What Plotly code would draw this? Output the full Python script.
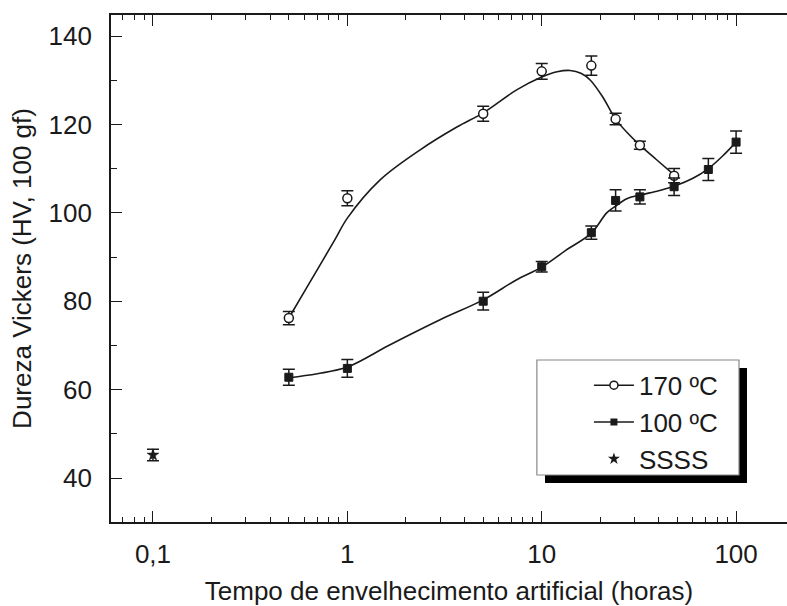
import plotly.graph_objects as go

# ---- data ----
t170 = [0.5, 1, 5, 10, 18, 24, 32, 48]
hv170 = [76.2, 103.3, 122.4, 132.0, 133.3, 121.2, 115.3, 108.4]
err170 = [1.5, 1.7, 1.7, 1.8, 2.2, 1.3, 0.9, 1.6]

t100 = [0.5, 1, 5, 10, 18, 24, 32, 48, 72, 100]
hv100 = [62.8, 64.8, 80.0, 87.8, 95.5, 102.8, 103.6, 105.9, 109.8, 116.0]
err100 = [1.8, 2.0, 2.0, 1.2, 1.5, 2.4, 1.6, 2.0, 2.5, 2.5]

t_ss = [0.1]
hv_ss = [45.2]
err_ss = [1.3]

# fitted (smoothed) curves as drawn in the reference
fit170_t = [0.5, 0.62, 0.86, 1, 1.47, 2.36, 3.66, 5, 7.43, 10, 12, 14, 16, 17.8, 20.6, 24, 28.3, 32, 39, 48]
fit170_v = [76.2, 83.2, 93.8, 98.8, 107.4, 114.2, 119.4, 122.6, 127.8, 130.7, 131.9, 132.2, 131.5, 130.0, 126.2, 121.2, 117.6, 115.3, 112.0, 108.6]

fit100_t = [0.5, 0.7, 1, 1.65, 3, 5, 7.4, 10, 13.4, 18, 21.6, 24, 27.4, 32, 40, 48, 60, 72, 85, 100]
fit100_v = [62.7, 63.6, 65.1, 70.1, 75.8, 80.3, 84.8, 87.7, 91.6, 95.4, 100.0, 101.5, 103.2, 104.0, 105.0, 106.0, 107.8, 110.0, 112.8, 116.0]

x_tickvals = [0.1, 1, 10, 100]
x_ticktext = ["0,1", "1", "10", "100"]
x_minor = [0.07, 0.08, 0.09, 0.2, 0.3, 0.4, 0.5, 0.6, 0.7, 0.8, 0.9,
           2, 3, 4, 5, 6, 7, 8, 9, 20, 30, 40, 50, 60, 70, 80, 90]
y_tickvals = [40, 60, 80, 100, 120, 140]

names = ["170 ºC", "100 ºC", "SSSS"]

INK = "#1a1a1a"
FONT = "Liberation Sans, Arial, sans-serif"

fig = go.Figure()

# smooth curves
fig.add_trace(go.Scatter(x=fit170_t, y=fit170_v, mode="lines", line=dict(color=INK, width=1.6, shape="spline"),
                         showlegend=False, hoverinfo="skip"))
fig.add_trace(go.Scatter(x=fit100_t, y=fit100_v, mode="lines", line=dict(color=INK, width=1.6, shape="spline"),
                         showlegend=False, hoverinfo="skip"))

# data points with error bars
fig.add_trace(go.Scatter(x=t170, y=hv170, mode="markers",
                         marker=dict(symbol="circle", size=9, color="white", line=dict(color=INK, width=1.5)),
                         error_y=dict(type="data", array=err170, color=INK, thickness=1.5, width=6),
                         showlegend=False))
fig.add_trace(go.Scatter(x=t100, y=hv100, mode="markers",
                         marker=dict(symbol="square", size=8, color=INK, line=dict(color=INK, width=1)),
                         error_y=dict(type="data", array=err100, color=INK, thickness=1.5, width=6),
                         showlegend=False))
fig.add_trace(go.Scatter(x=t_ss, y=hv_ss, mode="markers",
                         marker=dict(symbol="star", size=9, color=INK, line=dict(color=INK, width=0.5)),
                         error_y=dict(type="data", array=err_ss, color=INK, thickness=1.5, width=6),
                         showlegend=False))

# legend entries
fig.add_trace(go.Scatter(x=[None], y=[None], mode="lines+markers", name=names[0],
                         line=dict(color=INK, width=1.6),
                         marker=dict(symbol="circle", size=8, color="white", line=dict(color=INK, width=1.5))))
fig.add_trace(go.Scatter(x=[None], y=[None], mode="lines+markers", name=names[1],
                         line=dict(color=INK, width=1.6),
                         marker=dict(symbol="square", size=7, color=INK)))
fig.add_trace(go.Scatter(x=[None], y=[None], mode="markers", name=names[2],
                         marker=dict(symbol="star", size=9, color=INK)))

# legend box with shadow
fig.add_shape(type="rect", xref="paper", yref="paper", x0=0.642, x1=0.9408, y0=0.0769, y1=0.3037,
              fillcolor="black", line=dict(width=0), layer="above")
fig.add_shape(type="rect", xref="paper", yref="paper", x0=0.630, x1=0.929, y0=0.0927, y1=0.3195,
              fillcolor="white", line=dict(color="#888888", width=1.2), layer="above")

axis_common = dict(showline=True, linecolor=INK, linewidth=1.6, ticks="inside", tickcolor=INK,
                   tickwidth=1.4, ticklen=11, showgrid=False, zeroline=False,
                   tickfont=dict(family=FONT, size=26, color=INK))

fig.update_xaxes(type="log", range=[-1.216, 2.262], tickvals=x_tickvals, ticktext=x_ticktext,
                 mirror="ticks",
                 minor=dict(tickvals=x_minor, ticks="inside", ticklen=5, tickwidth=1.2, tickcolor=INK, showgrid=False),
                 title=dict(text="Tempo de envelhecimento artificial (horas)",
                            font=dict(family=FONT, size=26, color=INK), standoff=14),
                 ticklabelstandoff=8,
                 **axis_common)
fig.update_yaxes(range=[30.05, 144.75], tickvals=y_tickvals, mirror=False,
                 minor=dict(dtick=10, ticks="inside", ticklen=6, tickwidth=1.2, tickcolor=INK, showgrid=False),
                 title=dict(text="Dureza Vickers (HV, 100 gf)",
                            font=dict(family=FONT, size=26, color=INK), standoff=10),
                 ticklabelstandoff=12,
                 **axis_common)

fig.update_layout(
    width=787, height=606,
    margin=dict(l=111, r=0, t=15, b=84),
    paper_bgcolor="white", plot_bgcolor="white",
    font=dict(family=FONT, size=26, color=INK),
    legend=dict(x=0.707, y=0.316, xanchor="left", yanchor="top", bgcolor="rgba(0,0,0,0)",
                borderwidth=0, font=dict(family=FONT, size=26, color=INK), itemwidth=40,
                tracegroupgap=0),
    showlegend=True,
)

fig.write_html("out.html")
